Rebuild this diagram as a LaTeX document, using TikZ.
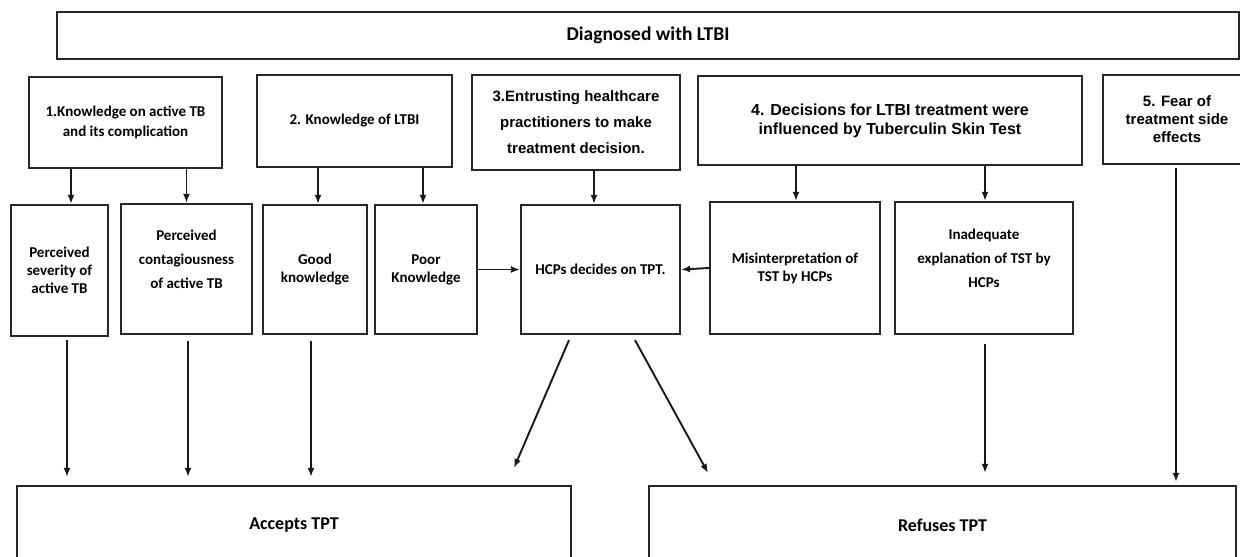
\documentclass[tikz,border=0pt]{standalone}
\usepackage{fontspec}
\setmainfont{Carlito}
\newfontfamily\arialfont{Liberation Sans}
\usetikzlibrary{arrows.meta, calc}
\tikzset{
  box/.style  = {draw=black!85, line width=2.2pt, align=center, inner sep=2pt,
                 font=\fontsize{15}{18}\selectfont\bfseries},
  abox/.style = {box, font=\arialfont\fontsize{15}{18}\selectfont\bfseries},
  txt/.style  = {align=center, font=\fontsize{15}{18}\selectfont\bfseries},
  arr/.style  = {-{Latex[length=9pt,width=7pt]}, line width=1.9pt, black!90}
}

\begin{document}
\begin{tikzpicture}[x=1pt, y=-1pt]
  \useasboundingbox (0,0) rectangle (1240,557);

  %% Top box
  \node[box, minimum width=1182pt, minimum height=47pt,
        font=\fontsize{19.5}{22}\selectfont\bfseries] (diag) at (648,35.5) {Diagnosed with LTBI};

  %% Themes
  \node[box, minimum width=193pt, minimum height=91pt] (know) at (125.5,122.5)
    {1.Knowledge on active TB\\[2pt]and its complication};
  \node[box, minimum width=195pt, minimum height=92pt] (ltbi) at (354.5,121)
    {2. Knowledge of LTBI};
  \node[abox, minimum width=208pt, minimum height=95pt] (trust) at (576,122.5)
    {3.Entrusting healthcare\\[8pt]practitioners to make\\[8pt]treatment decision.};
  \node[abox, minimum width=384pt, minimum height=89pt,
        font=\arialfont\fontsize{16}{19}\selectfont\bfseries] (tst) at (890,120.5)
    {4. Decisions for LTBI treatment were\\influenced by Tuberculin Skin Test};
  \node[abox, minimum width=148pt, minimum height=89pt] (fear) at (1177,119.5)
    {5. Fear of\\treatment side\\effects};

  %% Sub-themes
  \node[box, minimum width=97pt, minimum height=131pt] (sev) at (59.5,270.5)
    {Perceived\\severity of\\active TB};
  \node[box, minimum width=131pt, minimum height=130pt] (cont) at (186.5,269) {};
  \node[txt] (contT) at ([yshift=10pt]cont.center)
    {Perceived\\[6pt]contagiousness\\[6pt]of active TB};
  \node[box, minimum width=104pt, minimum height=129pt] (good) at (315,269.5)
    {Good\\knowledge};
  \node[box, minimum width=102pt, minimum height=129pt] (poor) at (426,269.5)
    {Poor\\Knowledge};
  \node[box, minimum width=159pt, minimum height=129pt] (hcp) at (600.5,269.5)
    {HCPs decides on TPT.};
  \node[box, minimum width=170pt, minimum height=132pt] (mis) at (795,268)
    {Misinterpretation of\\TST by HCPs};
  \node[box, minimum width=178pt, minimum height=132pt] (inad) at (984,268) {};
  \node[txt] (inadT) at ([yshift=10pt]inad.center)
    {Inadequate\\[6pt]explanation of TST by\\[6pt]HCPs};

  %% Outcomes
  \node[box, minimum width=554pt, minimum height=78pt,
        font=\fontsize{18}{20}\selectfont\bfseries] (acc) at (294,525) {Accepts TPT};
  \node[box, minimum width=587pt, minimum height=78pt,
        font=\fontsize{18}{20}\selectfont\bfseries] (ref) at (942.5,525) {Refuses TPT};

  %% Themes to sub-themes
  \draw[arr] ([xshift=11.5pt]sev.north |- know.south) -- ([xshift=11.5pt]sev.north);
  \draw[arr] (cont.north |- know.south) -- (cont.north);
  \draw[arr] ([xshift=3pt]good.north |- ltbi.south) -- ([xshift=3pt]good.north);
  \draw[arr] ([xshift=-3pt]poor.north |- ltbi.south) -- ([xshift=-3pt]poor.north);
  \draw[arr] ([xshift=-6.5pt]hcp.north |- trust.south) -- ([xshift=-6.5pt]hcp.north);
  \draw[arr] ([xshift=1pt]mis.north |- tst.south) -- ([xshift=1pt]mis.north);
  \draw[arr] ([xshift=1pt]inad.north |- tst.south) -- ([xshift=1pt]inad.north);
  \draw[arr] (poor.east) -- (hcp.west);
  \draw[arr] (mis.west) -- (hcp.east);

  %% Sub-themes to outcomes
  \draw[arr, shorten >=8pt] ([xshift=7.5pt,yshift=-3pt]sev.south)
    -- ([xshift=7.5pt]sev.south |- acc.north);
  \draw[arr, shorten >=8pt] ([xshift=1.5pt,yshift=-6pt]cont.south)
    -- ([xshift=1.5pt]cont.south |- acc.north);
  \draw[arr, shorten >=8pt] ([xshift=-4pt,yshift=-6pt]good.south)
    -- ([xshift=-4pt]good.south |- acc.north);
  \draw[arr] ([xshift=-31.5pt,yshift=-5pt]hcp.south) -- ([xshift=220pt,yshift=17pt]acc.north);
  \draw[arr] ([xshift=34.5pt,yshift=-5pt]hcp.south) -- ([xshift=-234.5pt,yshift=12pt]ref.north);
  \draw[arr, shorten >=12pt] ([xshift=1pt,yshift=-9pt]inad.south)
    -- ([xshift=1pt]inad.south |- ref.north);
  \draw[arr, shorten >=3pt] ([xshift=-1pt,yshift=-3pt]fear.south)
    -- ([xshift=-1pt]fear.south |- ref.north);
\end{tikzpicture}
\end{document}
